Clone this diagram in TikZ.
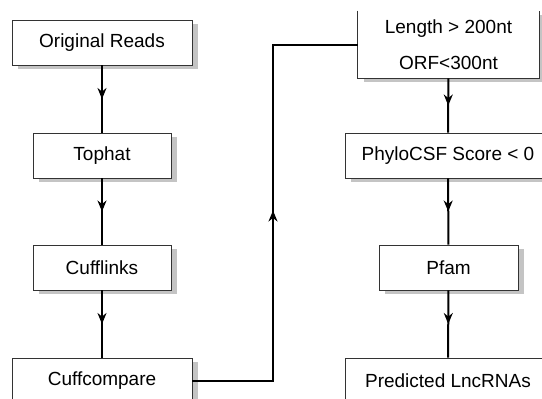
\documentclass[tikz,border=0pt]{standalone}
\usepackage{fontspec}
\setmainfont{Liberation Sans}
\usetikzlibrary{arrows.meta,shadows,decorations.markings}
\definecolor{edge}{HTML}{333333}
\definecolor{shade}{HTML}{C4C4C4}

\tikzset{
  box/.style={draw=edge,line width=.8pt,fill=white,minimum height=45pt,inner sep=0pt,
    font=\fontsize{19}{36}\selectfont,
    general shadow={fill=shade,shadow xshift=6pt,shadow yshift=-4pt}},
  flow/.style={line width=2pt,postaction={decorate},
    decoration={markings,mark=at position .5 with {\arrow{Stealth[length=11pt,width=9pt]}}}}
}

\begin{document}
\begin{tikzpicture}[x=1pt,y=-1pt]
  \useasboundingbox (0,0) rectangle (542,399);
  \clip (0,0) rectangle (542,399);
  % left column
  \node[box,minimum width=180pt] (reads) at (102,42.5) {Original Reads};
  \node[box,minimum width=138pt] (tophat) at (102,155.5) {Tophat};
  \node[box,minimum width=138pt] (cufflinks) at (102,267.5) {Cufflinks};
  \node[box,minimum width=180pt] (cuffcompare) at (102,380.5) {Cuffcompare};
  % right column
  \node[box,draw=none,minimum width=181pt,minimum height=67pt,align=center] (length) at (448.5,44.5) {Length > 200nt\\ORF<300nt};
  \draw[edge,line width=.8pt] (length.north west) -- (length.south west) -- (length.south east) -- (length.north east);
  \node[box,minimum width=206pt] (phylo) at (448,155.5) {PhyloCSF Score < 0};
  \node[box,minimum width=139pt] (pfam) at (448.5,267.5) {Pfam};
  \node[box,minimum width=206pt] (lnc) at (448,380.5) {Predicted LncRNAs};
  \coordinate (turn) at (273,44.5);
  % connectors
  \draw[flow] (reads) -- (tophat);
  \draw[flow] (tophat) -- (cufflinks);
  \draw[flow] (cufflinks) -- (cuffcompare);
  \draw[flow] (cuffcompare.east) -| (turn) -- (length.west);
  \draw[flow] (length) -- (phylo);
  \draw[flow] (phylo) -- (pfam);
  \draw[flow] (pfam) -- (lnc);
\end{tikzpicture}
\end{document}
